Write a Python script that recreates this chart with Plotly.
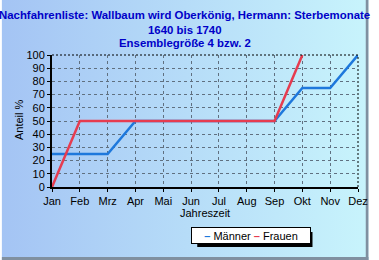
import base64
import plotly.graph_objects as go

months = ["Jan", "Feb", "Mrz", "Apr", "Mai", "Jun", "Jul", "Aug", "Sep", "Okt", "Nov", "Dez"]
maenner = [25, 25, 25, 50, 50, 50, 50, 50, 50, 75, 75, 100]
frauen = [0, 50, 50, 50, 50, 50, 50, 50, 50, 100, None, None]
yticks = list(range(0, 101, 10))

W, H = 379, 260
L, R, T, B = 52, 11, 55, 73
pw, ph = W - L - R, H - T - B


def px(xp):
    return (xp - L) / pw


def py(yp):
    return (H - B - yp) / ph


svg = ('<svg xmlns="http://www.w3.org/2000/svg" width="379" height="260" preserveAspectRatio="none">'
       '<defs><linearGradient id="g" x1="0" y1="0" x2="1" y2="0">'
       '<stop offset="0" stop-color="#a4c4f4"/><stop offset="1" stop-color="#c8f4fc"/>'
       '</linearGradient></defs><rect width="379" height="260" fill="url(#g)"/>'
       '<rect x="0" y="257" width="379" height="3" fill="#8090a0"/>'
       '<rect x="376" y="0" width="3" height="260" fill="#8090a0"/>'
       '<rect x="202" y="232" width="119" height="15" fill="black"/></svg>')
src = "data:image/svg+xml;base64," + base64.b64encode(svg.encode()).decode()

fig = go.Figure()
fig.add_trace(go.Scatter(x=months, y=maenner, mode="lines", name="Männer",
                         line=dict(color="#1e78dc", width=2.5), connectgaps=False))
fig.add_trace(go.Scatter(x=months, y=frauen, mode="lines", name="Frauen",
                         line=dict(color="#e63c50", width=2.5), connectgaps=False))

title_font = dict(family="Liberation Sans", size=11.4, color="#0000c8")
titles = ["<b>Nachfahrenliste: Wallbaum wird Oberkönig, Hermann: Sterbemonate</b>",
          "<b>1640 bis 1740</b>", "<b>Ensemblegröße 4 bzw. 2</b>"]
title_y = [15, 30, 43]
ann = []
for t, yy in zip(titles, title_y):
    ann.append(dict(text=t, xref="paper", yref="paper", x=px(189), y=py(yy),
                    xanchor="center", yanchor="middle", showarrow=False, font=title_font))

ann.append(dict(text="Anteil %", xref="paper", yref="paper", x=px(18), y=py(120),
                textangle=-90, xanchor="center", yanchor="middle", showarrow=False,
                font=dict(family="Liberation Sans", size=11, color="black")))
ann.append(dict(text="Jahreszeit", xref="paper", yref="paper", x=px(210), y=py(213),
                xanchor="center", yanchor="middle", showarrow=False,
                font=dict(family="Liberation Sans", size=11, color="black")))
ann.append(dict(text="<span style='color:#1e78dc;font-weight:bold'>–</span> Männer "
                     "<span style='color:#e63c50;font-weight:bold'>–</span> Frauen",
                xref="paper", yref="paper", x=px(258), y=py(235.5),
                xanchor="center", yanchor="middle", showarrow=False,
                bgcolor="white", bordercolor="black", borderwidth=1, borderpad=1,
                width=116, height=13,
                font=dict(family="Liberation Sans", size=11, color="black")))

shapes = [
    dict(type="line", xref="paper", yref="paper", x0=0, x1=1, y0=1, y1=1,
         line=dict(color="black", width=1, dash="2px,2px")),
    dict(type="line", xref="paper", yref="paper", x0=1, x1=1, y0=0, y1=1,
         line=dict(color="black", width=1, dash="2px,2px")),
]

grid = dict(showgrid=True, gridcolor="#607080", griddash="3px,3px", gridwidth=1,
            showline=True, linecolor="black", linewidth=2, ticks="outside", ticklen=3,
            tickcolor="black", zeroline=False, tickfont=dict(size=11))

fig.update_layout(
    width=W, height=H,
    margin=dict(l=L, r=R, t=T, b=B),
    paper_bgcolor="rgba(0,0,0,0)", plot_bgcolor="rgba(0,0,0,0)",
    showlegend=False,
    annotations=ann, shapes=shapes,
    images=[dict(source=src, xref="paper", yref="paper", x=px(0), y=py(0),
                 sizex=W / pw, sizey=H / ph, sizing="stretch", xanchor="left", yanchor="top",
                 layer="below")],
    font=dict(family="Liberation Sans", size=11, color="black"),
)
fig.update_xaxes(type="category", range=[0, 11], **grid)
fig.update_yaxes(range=[0, 100], tickvals=yticks, **grid)

fig.write_html("out.html")
